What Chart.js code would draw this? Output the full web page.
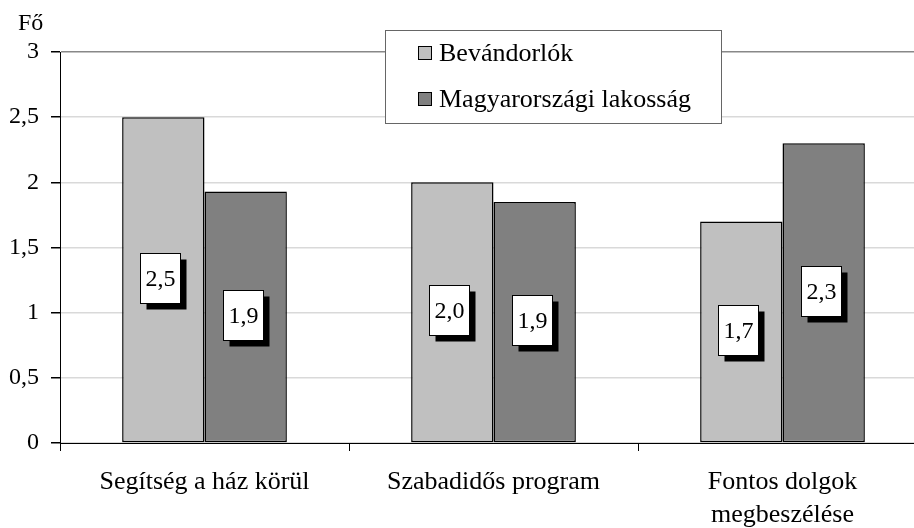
<!DOCTYPE html>
<html>
<head>
<meta charset="utf-8">
<script src="https://cdn.jsdelivr.net/npm/chart.js@4.4.0/dist/chart.umd.min.js"></script>
<style>
html,body{margin:0;padding:0;overflow:hidden;background:#fff;}
#wrap{position:relative;width:930px;height:528px;}
</style>
</head>
<body>
<div id="wrap"><canvas id="c"></canvas></div>
<script>
const categories = ['Segítség a ház körül', 'Szabadidős program', ['Fontos dolgok', 'megbeszélése']];
const seriesNames = ['Bevándorlók', 'Magyarországi lakosság'];
const bevandorlok = [2.5, 2.0, 1.7];
const magyar = [1.93, 1.85, 2.3];
const yTicks = [0, 0.5, 1, 1.5, 2, 2.5, 3];
const yUnit = 'Fő';

const FONT = '"Liberation Serif", "Times New Roman", serif';

const overlay = {
  id: 'overlay',
  afterDatasetsDraw(chart) {
    const ctx = chart.ctx;
    ctx.save();
    ctx.font = '24px ' + FONT;
    ctx.textAlign = 'center';
    ctx.textBaseline = 'middle';
    chart.data.datasets.forEach((ds, di) => {
      const meta = chart.getDatasetMeta(di);
      meta.data.forEach((el, i) => {
        const v = ds.data[i];
        const mid = (el.y + el.base) / 2;
        const w = 40, h = 50;
        const cx = el.x - 3, cy = mid - 2;
        const x0 = Math.round(cx - w / 2) + 0.5, y0 = Math.round(cy - h / 2) + 0.5;
        ctx.fillStyle = '#000';
        ctx.fillRect(x0 + 6, y0 + 6, w, h);
        ctx.fillStyle = '#fff';
        ctx.fillRect(x0, y0, w, h);
        ctx.strokeStyle = '#000';
        ctx.lineWidth = 1;
        ctx.strokeRect(x0, y0, w, h);
        ctx.fillStyle = '#000';
        ctx.fillText(v.toFixed(1).replace('.', ','), x0 + w / 2, y0 + h / 2 + 1);
      });
    });
    ctx.restore();
  },
  afterDraw(chart) {
    const ctx = chart.ctx;
    ctx.save();
    // unit label
    ctx.font = '24px ' + FONT;
    ctx.fillStyle = '#000';
    ctx.textAlign = 'left';
    ctx.textBaseline = 'middle';
    ctx.fillText(yUnit, 18, 24);
    // legend
    const lx = 385.5, ly = 30.5, lw = 336, lh = 93;
    ctx.fillStyle = '#fff';
    ctx.fillRect(lx, ly, lw, lh);
    ctx.strokeStyle = '#666';
    ctx.lineWidth = 1;
    ctx.strokeRect(lx, ly, lw, lh);
    ctx.font = '26px ' + FONT;
    chart.data.datasets.forEach((ds, i) => {
      const cy = 53 + i * 46;
      ctx.fillStyle = ds.backgroundColor;
      ctx.fillRect(418.5, cy - 6.5, 13, 13);
      ctx.strokeStyle = '#000';
      ctx.strokeRect(418.5, cy - 6.5, 13, 13);
      ctx.fillStyle = '#000';
      ctx.fillText(ds.label, 439, cy + 1);
    });
    ctx.restore();
  }
};

new Chart(document.getElementById('c'), {
  type: 'bar',
  data: {
    labels: categories,
    datasets: [
      { label: seriesNames[0], data: bevandorlok, backgroundColor: '#c0c0c0', borderColor: '#000', borderWidth: 1.5, borderSkipped: false },
      { label: seriesNames[1], data: magyar, backgroundColor: '#808080', borderColor: '#000', borderWidth: 1.5, borderSkipped: false }
    ]
  },
  options: {
    responsive: true,
    maintainAspectRatio: false,
    animation: false,
    layout: { padding: { top: 52, right: 3, left: 0, bottom: 0 } },
    datasets: { bar: { categoryPercentage: 0.57, barPercentage: 1.0 } },
    plugins: { legend: { display: false }, tooltip: { enabled: false } },
    scales: {
      x: {
        grid: { drawOnChartArea: false, drawTicks: true, tickLength: 8, color: '#000', offset: true },
        border: { color: '#000', width: 1 },
        ticks: { color: '#000', font: { family: FONT, size: 26, lineHeight: 1.25 }, padding: 15, maxRotation: 0, autoSkip: false },
        afterFit(s) { s.height = 85; }
      },
      y: {
        min: 0, max: 3,
        afterBuildTicks(s) { s.ticks = yTicks.map(v => ({ value: v })); },
        grid: {
          color: ctx => (ctx.tick && ctx.tick.value === 3) ? '#888' : '#d9d9d9',
          lineWidth: 1.5,
          tickColor: '#000', tickLength: 9, drawTicks: true
        },
        border: { color: '#000', width: 1 },
        ticks: {
          color: '#000', font: { family: FONT, size: 24 }, padding: 12,
          callback: v => String(v).replace('.', ',')
        },
        afterFit(s) { s.width = 60; }
      }
    }
  },
  plugins: [overlay]
});
</script>
</body>
</html>
